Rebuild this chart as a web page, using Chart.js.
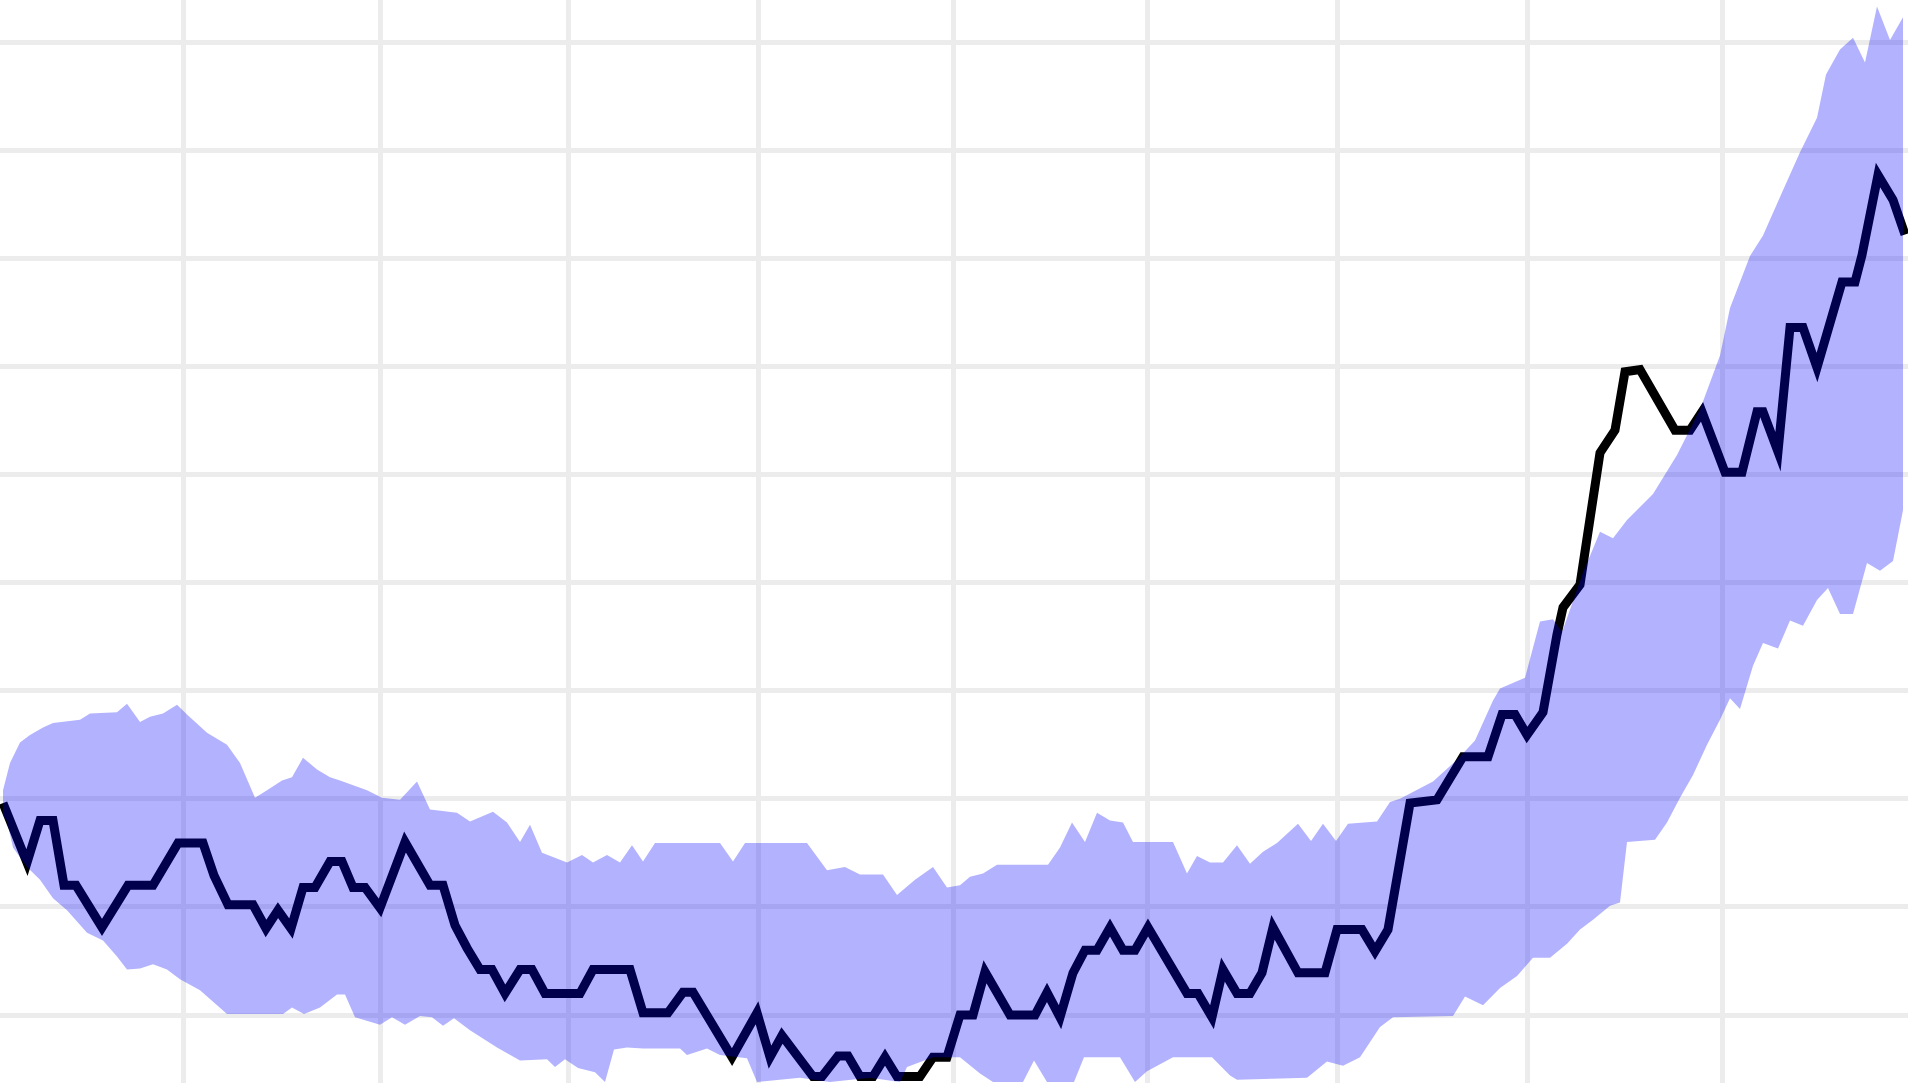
<!DOCTYPE html>
<html>
<head>
<meta charset="utf-8">
<script src="https://cdn.jsdelivr.net/npm/chart.js@4.4.1/dist/chart.umd.min.js"></script>
<style>
html,body{margin:0;padding:0;background:#ffffff;overflow:hidden;}
#wrap{position:relative;width:1908px;height:1083px;}
</style>
</head>
<body>
<div id="wrap"><canvas id="c"></canvas></div>
<script>
// Grid positions (axis units)
const xGridTicks = [14.64, 30.4, 45.44, 60.64, 76.24, 91.76, 106.96, 122.16, 137.76];
const yGridTicks = [0, 10, 20, 30, 40, 50, 60, 70, 80, 90];

// Main series (x, value)
const seriesLine = [
[0.24,19.6],[2.16,14.1],[3.2,18.0],[4.24,18.0],[5.12,12.0],[6.08,12.0],[8.16,8.1],[10.24,12.0],[12.24,12.0],[14.24,15.9],
[16.24,15.9],[17.12,12.9],[18.24,10.2],[20.24,10.2],[21.28,8.0],[22.24,9.7],[23.28,8.0],[24.24,11.8],[25.2,11.8],[26.4,14.2],
[27.36,14.2],[28.24,11.8],[29.2,11.8],[30.4,9.9],[32.4,16.0],[34.4,12.0],[35.44,12.0],[36.4,8.3],[37.36,6.2],[38.4,4.2],
[39.36,4.2],[40.4,2.0],[41.6,4.2],[42.56,4.2],[43.6,2.0],[46.4,2.0],[47.44,4.2],[50.4,4.2],[51.44,0.2],[53.44,0.2],
[54.64,2.1],[55.44,2.1],[58.56,-3.9],[60.56,0.2],[61.6,-3.9],[62.56,-1.9],[65.04,-5.7],[65.76,-5.7],[67.04,-3.8],[67.84,-3.8],
[68.8,-5.7],[69.84,-5.7],[70.8,-3.9],[71.76,-5.7],[73.6,-5.7],[74.64,-3.9],[75.76,-3.9],[76.8,0.0],[77.84,0.0],[78.8,4.0],
[80.8,0.0],[82.8,0.0],[83.76,2.1],[84.8,-0.2],[85.84,3.9],[86.8,6.0],[87.76,6.0],[88.8,8.1],[89.84,6.0],[90.8,6.0],
[91.84,8.1],[94.96,2.0],[95.84,2.0],[96.96,-0.2],[97.84,4.2],[98.96,2.0],[100.0,2.0],[100.96,3.9],[101.84,8.1],[103.84,3.9],
[106.0,3.9],[106.96,7.9],[108.96,7.9],[110.0,5.9],[111.04,7.9],[112.8,19.6],[114.96,19.9],[117.04,23.9],[119.04,23.9],[120.16,27.8],
[121.2,27.8],[122.16,25.9],[123.44,28.0],[124.56,35.2],[125.04,37.7],[126.4,39.8],[128.0,52.0],[129.2,54.1],[130.0,59.5],[131.2,59.7],
[134.0,54.1],[135.2,54.1],[136.16,55.8],[138.0,50.2],[139.36,50.2],[140.56,55.8],[141.04,55.8],[142.24,52.1],[143.2,63.6],[144.24,63.6],
[145.36,59.9],[147.36,67.8],[148.4,67.8],[148.96,70.3],[150.24,77.7],[151.44,75.4],[152.4,72.2]
];

// Band upper bound (x, value)
const bandUpper = [
[0.24,20.8],[0.8,23.3],[1.6,25.2],[2.4,25.9],[3.44,26.6],[4.24,27.0],[6.4,27.3],[7.2,27.9],[9.36,28.0],[10.16,28.8],
[11.2,27.1],[12.0,27.6],[13.04,27.9],[14.16,28.7],[14.96,27.8],[16.56,26.1],[18.16,25.0],[19.2,23.3],[20.4,20.1],[21.36,20.8],
[22.56,21.7],[23.36,22.0],[24.24,23.8],[25.36,22.7],[26.4,22.0],[27.2,21.7],[29.36,20.8],[30.56,20.1],[32.0,19.9],[33.36,21.6],
[34.4,19.0],[36.56,18.7],[37.6,17.9],[39.44,18.8],[40.56,17.8],[41.6,16.0],[42.4,17.6],[43.36,15.0],[45.36,14.1],[46.56,14.8],
[47.44,14.1],[48.56,14.8],[49.6,14.1],[50.56,15.7],[51.44,14.2],[52.4,15.9],[57.6,15.9],[58.64,14.2],[59.6,15.9],[64.56,15.9],
[66.16,13.4],[67.6,13.7],[68.8,13.0],[70.64,13.0],[71.76,11.1],[73.2,12.5],[74.64,13.7],[75.76,11.8],[76.8,12.0],[77.6,12.8],
[78.64,13.1],[79.76,13.9],[83.84,13.9],[84.8,15.5],[85.76,17.8],[86.8,16.0],[87.76,18.7],[88.8,18.0],[89.84,17.8],[90.64,16.0],
[93.84,16.0],[94.96,13.1],[95.76,14.7],[96.8,14.1],[97.84,14.1],[98.96,15.7],[100.0,14.0],[101.04,15.1],[102.16,15.9],[103.84,17.7],
[104.88,16.1],[105.84,17.7],[106.88,16.1],[107.84,17.7],[110.16,17.9],[111.2,19.7],[112.0,20.0],[114.64,21.6],[116.56,23.6],[118.0,25.4],
[119.44,29.1],[120.0,30.2],[122.0,31.2],[123.2,36.4],[124.24,36.6],[124.96,35.4],[126.64,40.9],[128.0,44.7],[129.04,44.1],[130.16,45.8],
[132.24,48.2],[134.16,51.8],[136.0,56.0],[137.6,61.0],[138.4,65.4],[140.0,70.2],[141.04,72.1],[142.64,76.3],[144.0,79.8],[145.36,83.0],
[146.08,87.0],[147.2,89.3],[148.24,90.4],[149.2,88.1],[150.16,93.3],[151.2,90.2],[152.24,92.3]
];

// Band lower bound (x, value)
const bandLower = [
[0.24,18.5],[0.56,17.9],[1.04,15.5],[2.16,13.7],[3.2,12.5],[4.24,10.8],[5.36,9.7],[6.96,7.6],[8.24,6.9],[9.36,5.4],
[10.16,4.2],[11.2,4.3],[12.24,4.7],[13.36,4.2],[14.4,3.3],[16.0,2.3],[18.16,0.1],[22.64,0.1],[23.36,0.7],[24.32,0.1],
[25.6,0.7],[26.96,1.9],[27.6,1.9],[28.4,-0.2],[30.4,-0.9],[31.36,-0.2],[32.4,-0.9],[33.6,-0.1],[34.56,-0.2],[35.44,-1.0],
[36.32,-0.3],[37.6,-1.4],[39.76,-3.0],[41.6,-4.2],[43.76,-4.1],[44.4,-4.8],[45.2,-4.1],[46.24,-4.9],[47.6,-5.3],[48.4,-6.2],
[49.12,-3.2],[50.16,-3.0],[51.44,-3.1],[54.4,-3.1],[54.96,-3.7],[56.56,-3.1],[57.6,-3.7],[59.76,-4.0],[60.56,-6.2],[64.0,-5.8],
[66.4,-6.2],[69.6,-5.8],[72.0,-6.2],[72.56,-4.8],[74.64,-3.9],[76.8,-3.9],[78.4,-5.4],[79.44,-6.2],[81.84,-6.2],[82.72,-4.2],
[83.76,-6.2],[85.92,-6.2],[86.72,-3.9],[89.6,-3.9],[90.8,-6.2],[91.76,-5.2],[93.84,-3.9],[96.96,-3.9],[98.4,-5.6],[98.96,-6.0],
[104.56,-5.8],[106.16,-4.3],[107.44,-4.7],[108.8,-3.9],[110.4,-1.1],[111.44,-0.2],[116.24,-0.1],[117.2,1.7],[118.64,0.9],[120.0,2.5],
[121.36,3.6],[122.64,5.3],[124.0,5.3],[125.36,6.6],[126.4,7.9],[127.44,8.8],[128.8,10.1],[129.6,10.4],[130.16,16.0],[132.4,16.2],
[133.36,17.8],[134.4,20.1],[135.44,22.2],[136.56,25.0],[137.6,27.3],[138.4,29.3],[139.2,28.3],[140.24,32.3],[141.04,34.4],[142.24,33.9],
[143.2,36.5],[144.24,36.0],[145.36,38.4],[146.24,39.5],[147.2,37.1],[148.24,37.1],[149.36,41.8],[150.4,41.1],[151.44,42.0],[152.24,46.7]
];

const toPoints = arr => arr.map(p => ({x: p[0], y: p[1]}));

new Chart(document.getElementById('c'), {
  type: 'line',
  data: {
    datasets: [
      {
        label: 'Upper',
        data: toPoints(bandUpper),
        borderColor: 'rgba(0,0,0,0)',
        borderWidth: 0,
        pointRadius: 0,
        tension: 0,
        fill: false,
        order: 0
      },
      {
        label: 'Lower',
        data: toPoints(bandLower),
        borderColor: 'rgba(0,0,0,0)',
        borderWidth: 0,
        pointRadius: 0,
        tension: 0,
        backgroundColor: 'rgba(0,0,255,0.3)',
        fill: '-1',
        order: 1
      },
      {
        label: 'Series',
        data: toPoints(seriesLine),
        borderColor: '#000000',
        borderWidth: 9,
        borderJoinStyle: 'miter',
        pointRadius: 0,
        tension: 0,
        fill: false,
        order: 2
      }
    ]
  },
  options: {
    responsive: true,
    maintainAspectRatio: false,
    animation: false,
    layout: { padding: 0 },
    plugins: {
      legend: { display: false },
      tooltip: { enabled: false },
      filler: { propagate: false }
    },
    scales: {
      x: {
        type: 'linear',
        min: 0,
        max: 152.64,
        afterBuildTicks: s => { s.ticks = xGridTicks.map(v => ({ value: v })); },
        ticks: { display: false },
        grid: { color: '#ececec', lineWidth: 5, drawTicks: false },
        border: { display: false }
      },
      y: {
        type: 'linear',
        min: -6.29,
        max: 93.89,
        afterBuildTicks: s => { s.ticks = yGridTicks.map(v => ({ value: v })); },
        ticks: { display: false },
        grid: { color: '#ececec', lineWidth: 5, drawTicks: false },
        border: { display: false }
      }
    }
  }
});
</script>
</body>
</html>
